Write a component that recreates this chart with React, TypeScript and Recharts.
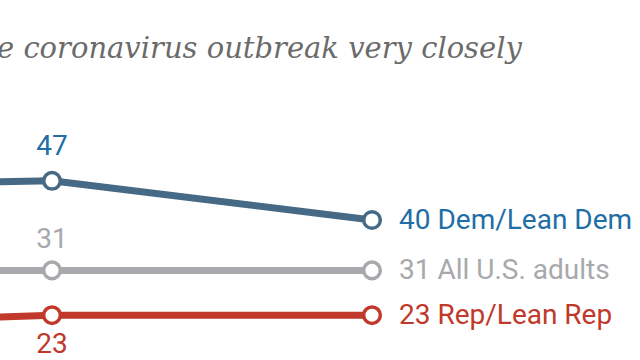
import { LabelList, Line, LineChart, XAxis, YAxis } from 'recharts';

// survey waves (the first one is off the left edge of the crop)
const waves = [1, 2, 3];
const demValues = [46, 47, 40];
const allValues = [31, 31, 31];
const repValues = [21, 23, 23];
const seriesNames = ['Dem/Lean Dem', 'All U.S. adults', 'Rep/Lean Rep'];
const titleText = 'e coronavirus outbreak very closely';

const data = waves.map((w, i) => ({
  wave: w,
  dem: demValues[i],
  all: allValues[i],
  rep: repValues[i],
}));

const LABEL_FONT = 'Roboto, "Liberation Sans", sans-serif';
const LABEL_SIZE = 28;

const series = [
  { key: 'dem', name: seriesNames[0], line: '#466a85', ink: '#1f6ea6', leftDy: -26 },
  { key: 'all', name: seriesNames[1], line: '#a7a9ac', ink: '#a7a9ac', leftDy: -22 },
  { key: 'rep', name: seriesNames[2], line: '#c0392b', ink: '#c0392b', leftDy: 38 },
];

type S = (typeof series)[number];

function makeLabel(s: S) {
  const last = waves.length - 1;
  return (props: any) => {
    const { x, y, index, value } = props;
    if (index === last) {
      return (
        <text x={x + 27} y={y + 9} fill={s.ink} fontSize={LABEL_SIZE} fontFamily={LABEL_FONT}>
          {`${value} ${s.name}`}
        </text>
      );
    }
    if (index === 1) {
      return (
        <text
          x={x}
          y={y + s.leftDy}
          fill={s.ink}
          fontSize={LABEL_SIZE}
          fontFamily={LABEL_FONT}
          textAnchor="middle"
        >
          {value}
        </text>
      );
    }
    return null;
  };
}

function makeDot(s: S) {
  return (props: any) => {
    const { cx, cy, index } = props;
    if (index === 0) return <g key={`${s.key}-d${index}`} />;
    return (
      <circle
        key={`${s.key}-d${index}`}
        cx={cx}
        cy={cy}
        r={8.3}
        fill="#fff"
        stroke={s.line}
        strokeWidth={3.5}
      />
    );
  };
}

export default function App() {
  return (
    <div style={{ width: 640, height: 360, overflow: 'hidden', position: 'relative', background: '#fff' }}>
      <style>{'body{margin:0}'}</style>
      <svg width={640} height={80} style={{ position: 'absolute', left: 0, top: 0 }}>
        <text
          x={-3}
          y={58}
          fill="#6b6b6b"
          fontSize={29}
          fontStyle="italic"
          fontFamily='"DejaVu Serif", serif'
        >
          {titleText}
        </text>
      </svg>
      <div style={{ position: 'absolute', left: 0, top: 0 }}>
        <LineChart width={640} height={392} data={data} margin={{ top: 108, right: 0, bottom: 4, left: 0 }}>
          <XAxis dataKey="wave" type="number" domain={[1.8375, 3.8375]} allowDataOverflow hide />
          <YAxis type="number" domain={[10, 60]} hide />
          {series.map((s) => (
            <Line
              key={s.key}
              dataKey={s.key}
              stroke={s.line}
              strokeWidth={7}
              dot={makeDot(s)}
              activeDot={false}
              isAnimationActive={false}
            >
              <LabelList dataKey={s.key} content={makeLabel(s)} />
            </Line>
          ))}
        </LineChart>
      </div>
    </div>
  );
}
